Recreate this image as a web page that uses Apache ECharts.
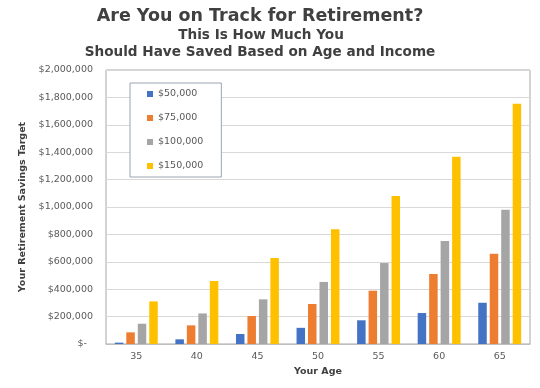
<!DOCTYPE html>
<html><head><meta charset="utf-8">
<script src="https://cdn.jsdelivr.net/npm/echarts@6/dist/echarts.min.js"></script>
<style>html,body{margin:0;padding:0;background:#fff}#c{width:540px;height:388px}</style>
</head><body><div id="c"></div>
<script>
const categories = ['35','40','45','50','55','60','65'];
const seriesNames = ['$50,000','$75,000','$100,000','$150,000'];
const s50k  = [10000, 34000, 73000, 118000, 173000, 226000, 301000];
const s75k  = [85000, 136000, 204000, 292000, 389000, 511000, 659000];
const s100k = [148000, 223000, 326000, 453000, 591000, 752000, 980000];
const s150k = [311000, 460000, 628000, 837000, 1080000, 1367000, 1754000];
const colors = ['#4472C4','#ED7D31','#A5A5A5','#FFC000'];
const titleLines = ['Are You on Track for Retirement?','This Is How Much You','Should Have Saved Based on Age and Income'];

const FONT = '"DejaVu Sans", Verdana, sans-serif';
const chart = echarts.init(document.getElementById('c'), null, {renderer:'canvas'});
const allData = [s50k, s75k, s100k, s150k];
chart.setOption({
  animation:false,
  color: colors,
  textStyle:{fontFamily:FONT},
  graphic:[
    {type:'text', x:260, y:16, style:{text:titleLines[0], font:'bold 17.5px '+FONT, fill:'#404040', textAlign:'center', textVerticalAlign:'middle'}},
    {type:'text', x:261, y:35, style:{text:titleLines[1], font:'bold 13.6px '+FONT, fill:'#404040', textAlign:'center', textVerticalAlign:'middle'}},
    {type:'text', x:260, y:52, style:{text:titleLines[2], font:'bold 13.6px '+FONT, fill:'#404040', textAlign:'center', textVerticalAlign:'middle'}}
  ],
  legend:{
    orient:'vertical', left:130, top:83,
    padding:[6,18,6,17], itemGap:14, itemWidth:6, itemHeight:6,
    backgroundColor:'#fff', borderColor:'#9aa5b1', borderWidth:1,
    icon:'rect',
    textStyle:{fontSize:9.5, color:'#595959', fontFamily:FONT},
    data: seriesNames
  },
  grid:{left:106, top:70, right:10, bottom:44, show:true, borderColor:'#a6a6a6', borderWidth:1, backgroundColor:'transparent'},
  xAxis:{
    type:'category', data:categories,
    axisTick:{show:false},
    axisLine:{lineStyle:{color:'#bfbfbf'}},
    axisLabel:{color:'#595959', fontSize:9.5, margin:8},
    name:'Your Age', nameLocation:'middle', nameGap:22,
    nameTextStyle:{fontWeight:'bold', fontSize:9.5, color:'#404040'}
  },
  yAxis:{
    type:'value', min:0, max:2000000, interval:200000,
    axisLine:{show:false}, axisTick:{show:false},
    splitLine:{lineStyle:{color:'#d9d9d9'}},
    axisLabel:{color:'#595959', fontSize:9.5, margin:13,
      formatter: v => v === 0 ? '$-  ' : '$' + v.toLocaleString('en-US')},
    name:'Your Retirement Savings Target', nameLocation:'middle', nameGap:67,
    nameTextStyle:{fontWeight:'bold', fontSize:9.5, color:'#404040'}
  },
  series: seriesNames.map((n,i)=>({
    name:n, type:'bar', data:allData[i], barWidth:8.5, barGap:'35%',
    itemStyle:{color:colors[i]}
  }))
});
</script></body></html>
